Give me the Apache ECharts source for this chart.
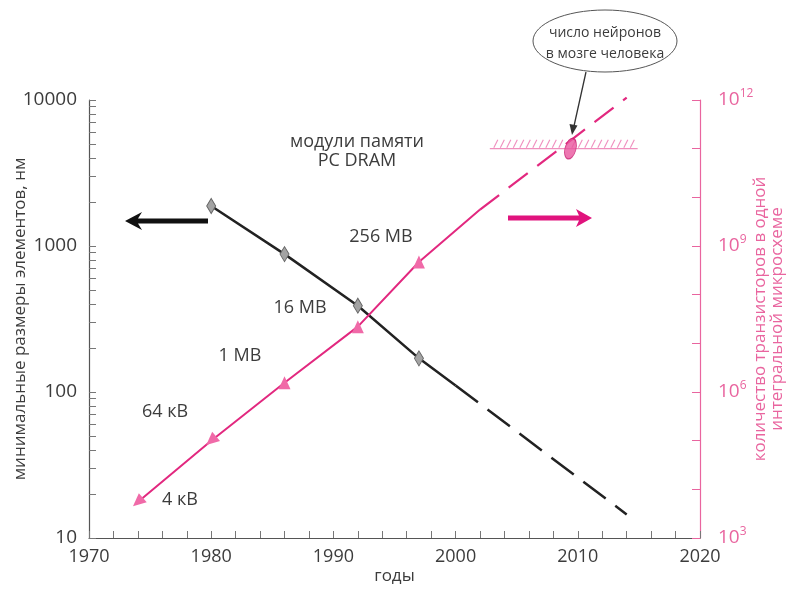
<!DOCTYPE html>
<html>
<head>
<meta charset="utf-8">
<script src="https://cdn.jsdelivr.net/npm/echarts@6/dist/echarts.min.js"></script>
<style>
  html, body { margin: 0; padding: 0; background: #fff; }
  #chart { width: 793px; height: 589px; }
</style>
</head>
<body>
<div id="chart"></div>
<script>
// Minimum feature size of DRAM chips (nm), left log axis
const featureYears = [1980, 1986, 1992, 1997];
const featureNm = [1880, 880, 390, 170];
// trend line continues solid to 2000, then dashed forecast to 2014
const featureTrendYears = [2000, 2014];
const featureTrendNm = [111, 14.5];

// Transistors per chip, right log axis
const chipYears = [1974, 1980, 1986, 1992, 1997];
const chipTransistors = [5.5e3, 1.0e5, 1.55e6, 2.2e7, 4.7e8];
const chipLabels = ['4 кВ', '64 кВ', '1 MB', '16 MB', '256 MB'];
const chipTrendYears = [2002, 2014];
const chipTrend = [5.6e9, 1.12e12];

// Neurons in the human brain
const neuronYear = 2009.4;
const neuronCount = 1e11;
const neuronBandYears = [2002.8, 2014.9];

// Tick values
const xTicks = [1970, 1980, 1990, 2000, 2010, 2020];
const leftLabels = [10, 100, 1000, 10000];
const rightLabels = [1e3, 1e6, 1e9, 1e12];

const FONT = 'Open Sans';
const PINK = '#e2287f';
const PINK_AXIS = '#e9659f';
const TRI = '#f06aa8';
const GREY_TEXT = '#3c3c3c';

const leftTicks = [];
for (let d = 10; d < 10000; d *= 10) {
  for (let k = 1; k <= 9; k++) leftTicks.push(d * k);
}
leftTicks.push(10000);
const rightTicks = [];
for (let e = 3; e <= 12; e++) rightTicks.push(Math.pow(10, e));
const xMinorTicks = [];
for (let y = 1970; y <= 2020; y += 2) xMinorTicks.push(y);

const supDigits = v => Math.round(Math.log10(v));

const solidFeature = featureYears.map((y, i) => [y, featureNm[i]]);
solidFeature.push({ value: [featureTrendYears[0], featureTrendNm[0]], symbol: 'none' });
const dashedFeature = featureTrendYears.map((y, i) => [y, featureTrendNm[i]]);

const solidChip = chipYears.map((y, i) => ({
  value: [y, chipTransistors[i]],
  // the two oldest points are drawn as arrowheads along the line
  symbolRotate: i < 2 ? 131 : 0
}));
solidChip.push({ value: [chipTrendYears[0], chipTrend[0]], symbol: 'none' });
const dashedChip = chipTrendYears.map((y, i) => [y, chipTrend[i]]);

const chart = echarts.init(document.getElementById('chart'));

const textItem = (x, y, text, size) => ({
  type: 'text', x, y,
  style: { text, fontFamily: FONT, fontSize: size || 18, fill: GREY_TEXT,
    textAlign: 'center', textVerticalAlign: 'middle' }
});

chart.setOption({
  animation: false,
  textStyle: { fontFamily: FONT },
  grid: { left: 89, right: 93, top: 100, bottom: 51, containLabel: false, outerBoundsMode: 'none' },
  xAxis: [
    {
      type: 'value',
      min: 1970, max: 2020, interval: 10,
      name: 'годы',
      nameLocation: 'middle',
      nameGap: 30,
      nameMoveOverlap: false,
      nameTextStyle: { fontFamily: FONT, fontSize: 17, color: GREY_TEXT },
      axisLine: { lineStyle: { color: '#555', width: 1.2 } },
      axisTick: { inside: true, length: 7, customValues: xMinorTicks, lineStyle: { color: '#777' } },
      splitLine: { show: false },
      axisLabel: { fontFamily: FONT, fontSize: 18, color: GREY_TEXT, margin: 10,
        customValues: xTicks, formatter: v => String(v) }
    }
  ],
  yAxis: [
    {
      type: 'log', logBase: 10, min: 10, max: 10000,
      position: 'left',
      name: 'минимальные размеры элементов, нм',
      nameLocation: 'middle',
      nameGap: 60,
      nameRotate: 90,
      nameMoveOverlap: false,
      nameTextStyle: { fontFamily: FONT, fontSize: 17, color: GREY_TEXT },
      axisLine: { show: true, lineStyle: { color: '#555', width: 1.2 } },
      axisTick: { show: true, inside: true, length: 7, customValues: leftTicks,
        lineStyle: { color: '#777' } },
      splitLine: { show: false },
      axisLabel: { fontFamily: FONT, fontSize: 19, color: GREY_TEXT, margin: 12,
        customValues: leftLabels, formatter: v => String(Math.round(v)) }
    },
    {
      type: 'log', logBase: 10, min: 1e3, max: 1e12,
      position: 'right',
      name: 'количество транзисторов в одной\nинтегральной микросхеме',
      nameLocation: 'middle',
      nameGap: 52,
      nameRotate: 90,
      nameMoveOverlap: false,
      nameTextStyle: { fontFamily: FONT, fontSize: 17, color: PINK_AXIS, lineHeight: 17 },
      axisLine: { show: true, lineStyle: { color: PINK_AXIS, width: 1.2 } },
      axisTick: { show: true, inside: true, length: 8, customValues: rightTicks,
        lineStyle: { color: PINK_AXIS } },
      splitLine: { show: false },
      axisLabel: {
        margin: 18,
        customValues: rightLabels,
        formatter: v => '{b|10}{s|' + supDigits(v) + '}',
        rich: {
          b: { fontFamily: FONT, fontSize: 19, color: PINK_AXIS },
          s: { fontFamily: FONT, fontSize: 12, color: PINK_AXIS, padding: [0, 0, 12, 0] }
        }
      }
    }
  ],
  series: [
    {
      name: 'feature',
      type: 'line',
      yAxisIndex: 0,
      data: solidFeature,
      symbol: 'diamond',
      symbolSize: [9, 15],
      itemStyle: { color: '#a3a3a3', borderColor: '#666', borderWidth: 1 },
      lineStyle: { color: '#222', width: 2.5 },
      z: 3
    },
    {
      name: 'featureTrend',
      type: 'line',
      yAxisIndex: 0,
      data: dashedFeature,
      symbol: 'none',
      lineStyle: { color: '#222', width: 2.5, type: [28, 12] },
      z: 3
    },
    {
      name: 'chips',
      type: 'line',
      yAxisIndex: 1,
      data: solidChip,
      symbol: 'triangle',
      symbolSize: [12, 13],
      itemStyle: { color: TRI, borderWidth: 0 },
      lineStyle: { color: PINK, width: 2 },
      z: 4
    },
    {
      name: 'chipTrend',
      type: 'line',
      yAxisIndex: 1,
      data: dashedChip,
      symbol: 'none',
      clip: false,
      lineStyle: { color: PINK, width: 2.2, type: [24, 12] },
      z: 4
    },
    {
      // neuron-count level: thin line with hatching
      name: 'neuronBand',
      type: 'custom',
      yAxisIndex: 1,
      data: [[neuronBandYears[0], neuronCount, neuronBandYears[1]]],
      renderItem: (params, api) => {
        const p0 = api.coord([api.value(0), api.value(1)]);
        const p1 = api.coord([api.value(2), api.value(1)]);
        const children = [{
          type: 'line',
          shape: { x1: p0[0], y1: p0[1], x2: p1[0], y2: p1[1] },
          style: { stroke: '#f08fbe', lineWidth: 1.2 }
        }];
        for (let x = p0[0] + 4; x < p1[0] - 2; x += 6.5) {
          children.push({
            type: 'line',
            shape: { x1: x, y1: p0[1] - 1, x2: x + 4, y2: p0[1] - 9 },
            style: { stroke: '#f08fbe', lineWidth: 1.1 }
          });
        }
        return { type: 'group', children };
      },
      z: 2
    },
    {
      name: 'neurons',
      type: 'scatter',
      yAxisIndex: 1,
      data: [[neuronYear, neuronCount]],
      symbol: 'circle',
      symbolSize: [11, 21],
      symbolRotate: -15,
      itemStyle: { color: '#e8559d', borderColor: '#c81f70', borderWidth: 1 },
      z: 5
    }
  ],
  graphic: [
    // left arrow: feature size belongs to the left axis
    { type: 'polygon', shape: { points: [[125, 221], [142, 212], [138, 218.5], [208, 218.5], [208, 223.5], [138, 223.5], [142, 230]] },
      style: { fill: '#111' } },
    // right arrow: transistor count belongs to the right axis
    { type: 'polygon', shape: { points: [[592, 218], [576, 209], [579, 215.5], [508, 215.5], [508, 220.5], [579, 220.5], [576, 227]] },
      style: { fill: '#e0137d' } },
    // callout bubble
    { type: 'ellipse', shape: { cx: 605, cy: 41, rx: 72, ry: 31 },
      style: { fill: '#fff', stroke: '#555', lineWidth: 1 } },
    textItem(605, 33, 'число нейронов', 14),
    textItem(605, 54, 'в мозге человека', 14),
    { type: 'line', shape: { x1: 586, y1: 72, x2: 574, y2: 126 },
      style: { stroke: '#333', lineWidth: 1.3 } },
    { type: 'polygon', shape: { points: [[572, 135], [569.5, 124], [577.5, 125.5]] },
      style: { fill: '#333' } },
    // memory module annotations
    textItem(357, 142, 'модули памяти'),
    textItem(357, 161, 'PC DRAM'),
    textItem(381, 237, chipLabels[4]),
    textItem(300, 308, chipLabels[3]),
    textItem(240, 356, chipLabels[2]),
    textItem(165, 412, chipLabels[1]),
    textItem(180, 500, chipLabels[0])
  ]
});
</script>
</body>
</html>
